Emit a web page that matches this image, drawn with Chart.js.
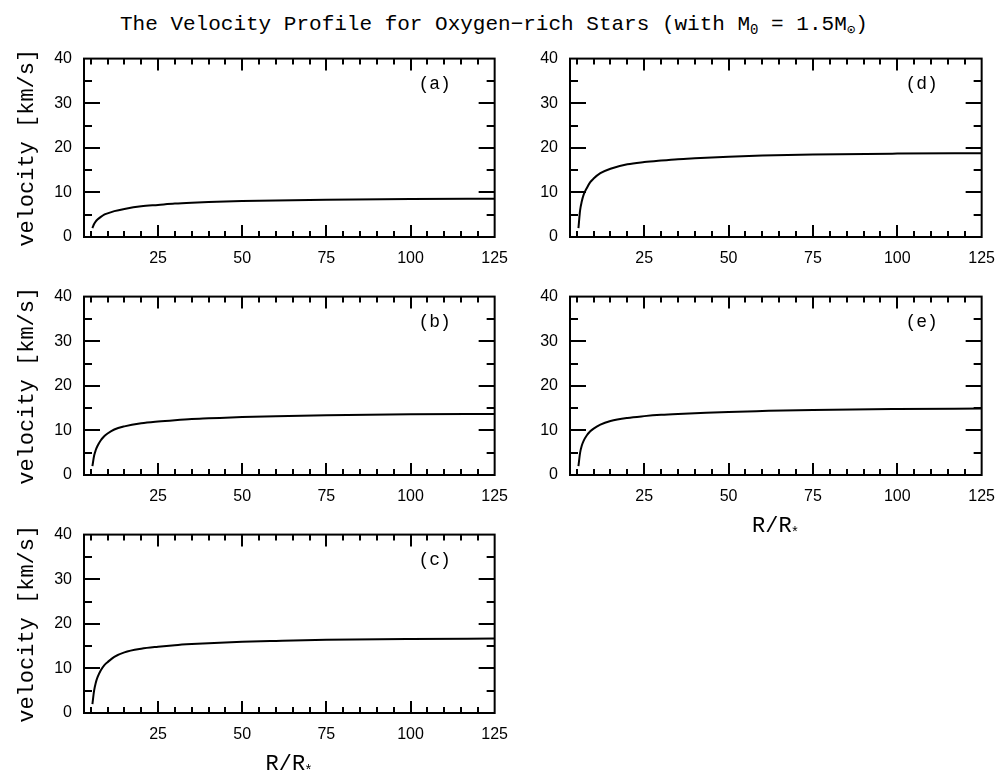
<!DOCTYPE html>
<html>
<head>
<meta charset="utf-8">
<script src="https://cdn.jsdelivr.net/npm/chart.js@4.4.1/dist/chart.umd.min.js"></script>
<style>
  body { margin: 0; background: #fff; }
  #page { position: relative; width: 1007px; height: 777px; overflow: hidden; }
  #page canvas { position: absolute; }
  #title {
    position: absolute; left: 120px; top: 12px;
    font: 21px "Liberation Mono", monospace; line-height: 26px;
    white-space: nowrap; color: #000;
  }
  #title sub { font-size: 14px; line-height: 0; vertical-align: -4px; }
</style>
</head>
<body>
<div id="page">
  <div id="title">The Velocity Profile for Oxygen&minus;rich Stars (with M<sub>0</sub> = 1.5M<sub>&#8857;</sub>)</div>
  <canvas id="pa"></canvas>
  <canvas id="pb"></canvas>
  <canvas id="pc"></canvas>
  <canvas id="pd"></canvas>
  <canvas id="pe"></canvas>
</div>
<script>
// radius in units of R_*
const radius = [5.5, 6, 6.5, 7, 8, 9, 10, 12, 15, 20, 25, 30, 35, 40, 50, 60, 75, 100, 125];

// velocity [km/s] for each panel
const velA = [2.0, 2.9, 3.5, 3.9, 4.5, 5.0, 5.3, 5.8, 6.3, 6.9, 7.2, 7.5, 7.7, 7.85, 8.05, 8.2, 8.35, 8.5, 8.6];
const velB = [2.0, 4.3, 5.6, 6.5, 7.8, 8.7, 9.3, 10.2, 10.9, 11.6, 12.0, 12.3, 12.55, 12.7, 13.0, 13.2, 13.4, 13.6, 13.7];
const velC = [2.0, 5.0, 6.8, 8.0, 9.6, 10.7, 11.4, 12.6, 13.6, 14.4, 14.85, 15.2, 15.45, 15.65, 15.95, 16.15, 16.4, 16.6, 16.7];
const velD = [2.0, 6.0, 8.0, 9.4, 11.0, 12.3, 13.1, 14.3, 15.3, 16.3, 16.8, 17.15, 17.45, 17.65, 18.0, 18.25, 18.5, 18.7, 18.8];
const velE = [2.0, 5.0, 6.6, 7.6, 8.9, 9.8, 10.4, 11.3, 12.1, 12.8, 13.2, 13.5, 13.7, 13.85, 14.15, 14.35, 14.6, 14.8, 14.9];

const xMajor = [25, 50, 75, 100, 125];
const xMinor = [5, 10, 15, 20, 30, 35, 40, 45, 55, 60, 65, 70, 80, 85, 90, 95, 105, 110, 115, 120];
const yMajor = [0, 10, 20, 30, 40];
const yMinor = [5, 15, 25, 35];

const monoFont = '"Liberation Mono", monospace';
const sansFont = '"Liberation Sans", Arial, sans-serif';

// frame with inward ticks on all four sides, panel letter and R/R* label
const framePlugin = {
  id: 'frame',
  afterDatasetsDraw(chart) {
    const { ctx, chartArea: a } = chart;
    const xs = chart.scales.x, ys = chart.scales.y;
    const opts = chart.options.plugins.frame;
    ctx.save();
    ctx.strokeStyle = '#000';
    ctx.lineWidth = 2;
    ctx.strokeRect(a.left, a.top, a.right - a.left, a.bottom - a.top);
    ctx.beginPath();
    const xt = (vals, len) => vals.forEach(v => {
      const px = Math.round(xs.getPixelForValue(v));
      if (px <= a.left + 1 || px >= a.right - 1) return;
      ctx.moveTo(px, a.bottom); ctx.lineTo(px, a.bottom - len);
      ctx.moveTo(px, a.top); ctx.lineTo(px, a.top + len);
    });
    const yt = (vals, len) => vals.forEach(v => {
      const py = Math.round(ys.getPixelForValue(v));
      if (py <= a.top + 1 || py >= a.bottom - 1) return;
      ctx.moveTo(a.left, py); ctx.lineTo(a.left + len, py);
      ctx.moveTo(a.right, py); ctx.lineTo(a.right - len, py);
    });
    xt(xMajor, 12); xt(xMinor, 6);
    yt(yMajor, 16); yt(yMinor, 8);
    ctx.stroke();

    ctx.fillStyle = '#000';
    ctx.font = '18px ' + monoFont;
    ctx.textAlign = 'center';
    ctx.textBaseline = 'middle';
    ctx.fillText(opts.tag, a.right - 60, a.top + 26);

    if (opts.xTitle) {
      const cx = (a.left + a.right) / 2;
      const base = a.bottom + 57;
      ctx.font = '22px ' + monoFont;
      ctx.textBaseline = 'alphabetic';
      const main = 'R/R';
      const w = ctx.measureText(main).width;
      ctx.textAlign = 'left';
      ctx.fillText(main, cx - (w + 8) / 2, base);
      ctx.font = '14px ' + monoFont;
      ctx.fillText('*', cx - (w + 8) / 2 + w - 1, base + 5);
    }
    ctx.restore();
  }
};

function makePanel(id, left, top, vel, tag, yTitle, xTitle) {
  const w = left === 0 ? 520 : 521;
  const h = 262;
  const cv = document.getElementById(id);
  cv.width = w; cv.height = h;
  cv.style.left = left + 'px';
  cv.style.top = (top - 10) + 'px';
  new Chart(cv, {
    type: 'line',
    data: {
      datasets: [{
        data: radius.map((r, i) => ({ x: r, y: vel[i] })),
        borderColor: '#000',
        borderWidth: 2,
        pointRadius: 0,
        cubicInterpolationMode: 'monotone',
        fill: false
      }]
    },
    options: {
      responsive: false,
      animation: false,
      devicePixelRatio: 1,
      layout: { padding: { top: 10, right: 20, left: 0, bottom: 0 } },
      plugins: {
        legend: { display: false },
        tooltip: { enabled: false },
        frame: { tag: tag, xTitle: xTitle }
      },
      scales: {
        x: {
          type: 'linear',
          min: 3, max: 125,
          afterBuildTicks: s => { s.ticks = xMajor.map(v => ({ value: v })); },
          afterFit: s => { s.height = 62; },
          grid: { display: false, drawTicks: false },
          border: { display: false },
          ticks: { color: '#000', font: { family: sansFont, size: 16 }, padding: 12, maxRotation: 0 }
        },
        y: {
          min: 0, max: 40,
          afterBuildTicks: s => { s.ticks = yMajor.map(v => ({ value: v })); },
          afterFit: s => { s.width = 84; },
          grid: { display: false, drawTicks: false },
          border: { display: false },
          ticks: { color: '#000', font: { family: sansFont, size: 16 }, padding: 12 },
          title: {
            display: !!yTitle, text: yTitle || '', color: '#000',
            font: { family: monoFont, size: 22 }, padding: { top: 14, bottom: 0 }
          }
        }
      }
    },
    plugins: [framePlugin]
  });
}

makePanel('pa', 0, 47, velA, '(a)', 'velocity [km/s]', false);
makePanel('pb', 0, 285, velB, '(b)', 'velocity [km/s]', false);
makePanel('pc', 0, 523, velC, '(c)', 'velocity [km/s]', true);
makePanel('pd', 486, 47, velD, '(d)', null, false);
makePanel('pe', 486, 285, velE, '(e)', null, true);
</script>
</body>
</html>
